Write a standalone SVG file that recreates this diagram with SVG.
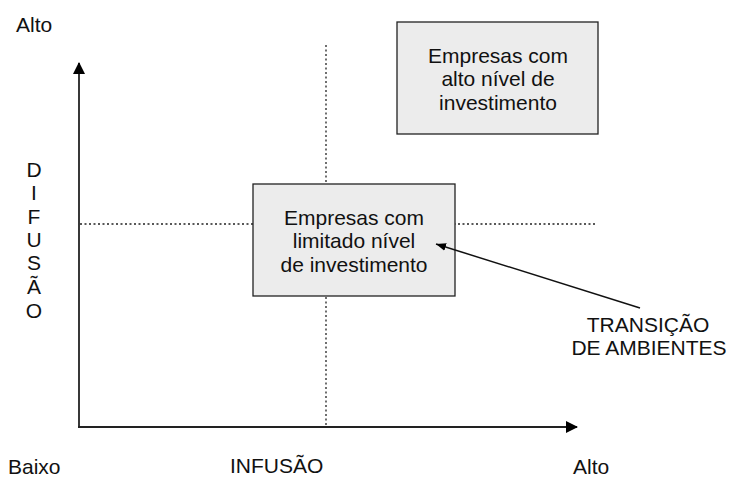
<svg xmlns="http://www.w3.org/2000/svg" width="730" height="478" viewBox="0 0 730 478">
<style>
text{font-family:"Liberation Sans",Arial,sans-serif;font-size:21px;fill:#111}
.box{fill:#ececec;stroke:#222;stroke-width:1.3}
.axis{stroke:#222;stroke-width:1.8;fill:none}
.dot{stroke:#222;stroke-width:1.3;stroke-dasharray:2 2.5;fill:none}
.c{text-anchor:middle}
</style>
<defs>
<marker id="ah" viewBox="0 0 12 12" refX="11" refY="6" markerWidth="12" markerHeight="12" markerUnits="userSpaceOnUse" orient="auto">
<path d="M0,0 L12,6 L0,12 Z" fill="#000"/>
</marker>
<marker id="ahs" viewBox="0 0 10 8" refX="10" refY="4" markerWidth="10" markerHeight="8" markerUnits="userSpaceOnUse" orient="auto">
<path d="M0,0 L10,4 L0,8 Z" fill="#000"/>
</marker>
</defs>
<g id="axes">
<line class="axis" x1="79" y1="427" x2="79" y2="63" marker-end="url(#ah)"/>
<line class="axis" x1="78" y1="427" x2="577" y2="427" marker-end="url(#ah)"/>
</g>
<g id="grid">
<line class="dot" x1="326" y1="45" x2="326" y2="426"/>
<line class="dot" x1="80" y1="224" x2="596" y2="224"/>
</g>
<g id="node-alto">
<rect class="box" x="397" y="22" width="201" height="112"/>
<text class="c" x="498" y="63">Empresas com</text>
<text class="c" x="498" y="86">alto nível de</text>
<text class="c" x="498" y="110">investimento</text>
</g>
<g id="node-limitado">
<rect class="box" x="253" y="184" width="202" height="112"/>
<text class="c" x="354" y="225">Empresas com</text>
<text class="c" x="354" y="248">limitado nível</text>
<text class="c" x="354" y="272">de investimento</text>
</g>
<g id="connectors">
<line x1="640" y1="308" x2="436" y2="244" stroke="#111" stroke-width="1.5" marker-end="url(#ahs)"/>
</g>
<g id="labels">
<text x="16" y="32">Alto</text>
<text class="c" x="34" y="177">D</text>
<text class="c" x="34" y="200">I</text>
<text class="c" x="34" y="224">F</text>
<text class="c" x="34" y="247">U</text>
<text class="c" x="34" y="270">S</text>
<text class="c" x="34" y="294">Ã</text>
<text class="c" x="34" y="318">O</text>
<text class="c" x="648" y="332">TRANSIÇÃO</text>
<text class="c" x="649" y="355">DE AMBIENTES</text>
<text x="8" y="474">Baixo</text>
<text x="230" y="473">INFUSÃO</text>
<text x="573" y="474">Alto</text>
</g>
</svg>
